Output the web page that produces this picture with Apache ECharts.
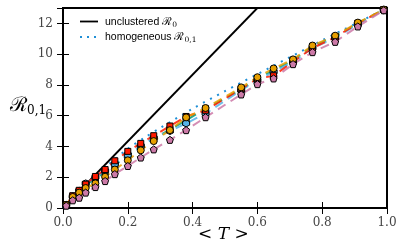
<!DOCTYPE html>
<html><head><meta charset="utf-8">
<script src="https://cdn.jsdelivr.net/npm/echarts@6/dist/echarts.min.js"></script>
<style>html,body{margin:0;padding:0;background:#fff}#c{width:400px;height:247px}</style>
</head><body><div id="c"></div>
<script>
// Mean transmissibility values
const T = [0.01,0.03,0.05,0.07,0.10,0.13,0.16,0.20,0.24,0.28,0.33,0.38,0.44,0.55,0.60,0.65,0.71,0.77,0.84,0.91,0.99];
const redVals    = [0.2,0.80,1.15,1.55,2.05,2.50,3.07,3.68,4.20,4.70,5.33,5.95,6.35,7.75,8.40,8.60,9.50,10.40,11.10,12.00,12.90];
const skyVals    = [0.2,0.75,1.12,1.60,2.00,2.42,2.86,3.45,4.03,4.55,5.00,5.50,6.15,7.65,8.30,8.85,9.50,10.40,11.05,11.95,12.85];
const orangeVals = [0.2,0.72,1.00,1.30,1.60,2.03,2.50,3.10,3.75,4.35,5.06,5.89,6.50,7.84,8.50,9.07,9.66,10.56,11.20,12.05,12.90];
const greenVals  = [0.2,0.75,1.10,1.50,1.90,2.35,2.80,3.40,4.00,4.50,5.10,5.70,6.45,7.70,8.40,8.95,9.60,10.50,11.15,12.00,12.90];
const pinkVals   = [0.15,0.50,0.67,1.00,1.36,1.75,2.20,2.73,3.28,3.81,4.43,5.06,5.90,7.38,8.05,8.42,9.35,10.13,10.80,11.80,12.85];
// Reference curves
const r0T = [0, 0.6];
const r0Vals = [0, 13];
const homT = [0,0.05,0.1,0.15,0.2,0.25,0.3,0.4,0.5,0.6,0.7,0.8,0.9,1.0];
const homVals = [0,1.05,2.05,3.0,3.85,4.55,5.2,6.45,7.6,8.7,9.8,10.9,11.95,13.0];
const xTicks = ['0.0','0.2','0.4','0.6','0.8','1.0'];
const yTicks = ['0','2','4','6','8','10','12'];
const legendNames = ['unclustered ', 'homogeneous '];
const legendSubs = ['0', '0,1'];

const zip = (a,b)=>a.map((v,i)=>[v,b[i]]);
const hex = 'path://M0,-1 L0.866,-0.5 L0.866,0.5 L0,1 L-0.866,0.5 L-0.866,-0.5Z';
const pent = 'path://M0,-1 L0.951,-0.309 L0.588,0.809 L-0.588,0.809 L-0.951,-0.309Z';
const homColor = '#1f8fd6';

function dataSeries(vals, color, symbol, size){
  return {type:'line', data: zip(T, vals), symbol, symbolSize:size, z:3,
    lineStyle:{color, width:2, type:[9,6], opacity:0.85},
    itemStyle:{color, borderColor:'#000', borderWidth:1},
    emphasis:{disabled:true}, silent:true};
}
const legendRich = {
  t:{fontFamily:'Liberation Sans', fontSize:10.5, fill:'#000'},
  r:{fontFamily:'DejaVu Serif', fontSize:11, fill:'#000'},
  s:{fontFamily:'DejaVu Serif', fontSize:7.5, fill:'#000', padding:[6,0,0,0]}
};
const chart = echarts.init(document.getElementById('c'), null, {renderer:'canvas'});
const tickFont = {fontFamily:'DejaVu Serif', fontSize:12, color:'#444'};
chart.setOption({
  animation:false,
  grid:{left:63, right:13, top:8, bottom:39, show:true, borderColor:'#000', borderWidth:2},
  xAxis:[
    {type:'value', min:0, max:1, interval:0.2, position:'bottom',
     axisLine:{show:false}, splitLine:{show:false},
     axisTick:{inside:true, length:6, lineStyle:{color:'#000', width:1}},
     axisLabel:Object.assign({margin:9, formatter:v=>xTicks[Math.round(v/0.2)]}, tickFont)},
    {type:'value', min:0, max:1, interval:0.2, position:'top',
     axisLine:{show:false}, splitLine:{show:false}, axisLabel:{show:false},
     axisTick:{inside:true, length:6, lineStyle:{color:'#000', width:1}}}
  ],
  yAxis:[
    {type:'value', min:0, max:13, interval:2, position:'left',
     axisLine:{show:false}, splitLine:{show:false},
     axisTick:{inside:true, length:6, lineStyle:{color:'#000', width:1}},
     axisLabel:Object.assign({margin:10, formatter:v=>yTicks[Math.round(v/2)]}, tickFont)},
    {type:'value', min:0, max:13, interval:2, position:'right',
     axisLine:{show:false}, splitLine:{show:false}, axisLabel:{show:false},
     axisTick:{inside:true, length:6, lineStyle:{color:'#000', width:1}}}
  ],
  series:[
    {name:'r0', type:'line', data: zip(r0T, r0Vals), symbol:'none', z:2,
     lineStyle:{color:'#000', width:1.8}},
    {name:'hom', type:'line', data: zip(homT, homVals), symbol:'none', z:2, smooth:0.3,
     lineStyle:{color:homColor, width:2, type:[2,6]}},
    dataSeries(greenVals, '#009E73', 'rect', 6),
    dataSeries(skyVals, '#56B4E9', hex, 7),
    dataSeries(redVals, '#ff1a00', 'rect', 6),
    dataSeries(orangeVals, '#E69F00', 'circle', 7),
    dataSeries(pinkVals, '#CC79A7', pent, 7)
  ],
  graphic:[
    {type:'line', shape:{x1:80, y1:21.5, x2:98, y2:21.5}, style:{stroke:'#000', lineWidth:1.8}},
    {type:'line', shape:{x1:80, y1:37, x2:98, y2:37}, style:{stroke:homColor, lineWidth:2, lineDash:[2,5]}},
    {type:'text', x:105, y:15, style:{rich:legendRich, text:'{t|'+legendNames[0]+'}{r|ℛ}{s|'+legendSubs[0]+'}'}},
    {type:'text', x:105, y:30.5, style:{rich:legendRich, text:'{t|'+legendNames[1]+'}{r|ℛ}{s|'+legendSubs[1]+'}'}},
    {type:'text', left:10, top:96, style:{rich:{
      r:{fontFamily:'DejaVu Serif', fontSize:20, fill:'#000'},
      s:{fontFamily:'DejaVu Serif', fontSize:12, fill:'#000', padding:[10,0,0,0]}},
      text:'{r|ℛ}{s|0,1}'}},
    {type:'text', left:198, top:226, style:{rich:{
      a:{fontFamily:'DejaVu Serif', fontSize:17, fill:'#000'},
      i:{fontFamily:'DejaVu Serif', fontStyle:'italic', fontSize:17, fill:'#000'}},
      text:'{a|< }{i|T}{a| >}'}}
  ]
});
</script></body></html>
